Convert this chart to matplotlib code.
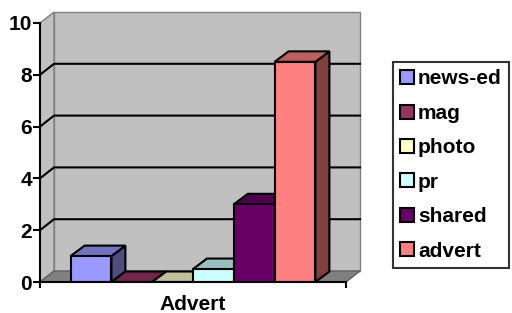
import matplotlib
matplotlib.use('Agg')
import matplotlib.pyplot as plt
import numpy as np
from matplotlib.patches import Polygon
from matplotlib.colors import to_rgb

plt.rcParams['font.family'] = ['Liberation Sans', 'DejaVu Sans']
plt.rcParams['font.weight'] = 'bold'

# data
series = ['news-ed', 'mag', 'photo', 'pr', 'shared', 'advert']
values = [1, 0, 0, 0.5, 3, 8.5]
colors = ['#9999FF', '#993366', '#FFFFCC', '#CCFFFF', '#660066', '#FF8080']
category = 'Advert'
yticks = [0, 2, 4, 6, 8, 10]

fig = plt.figure(figsize=(5.12, 3.13), dpi=100)
# px per unit: x 306 px per category, y 25.9 px per unit
ax = fig.add_axes([40/512, 31/313, 1.06*306/512, 10.5*25.9/313])
ax.set_xlim(0, 1.06)
ax.set_ylim(0, 10.5)

dx, dy = 14/306, 11/25.9      # depth of walls
bdx, bdy = 14/306, 10.5/25.9  # depth of bars
ymax = 10

def shade(c, f):
    return tuple(np.array(to_rgb(c)) * f)

wall = '#C0C0C0'
edge = '#808080'
# back wall and side wall
ax.add_patch(Polygon([(dx, dy), (1+dx, dy), (1+dx, ymax+dy), (dx, ymax+dy)],
                     fc=wall, ec=edge, lw=1, zorder=1))
ax.add_patch(Polygon([(0, 0), (dx, dy), (dx, ymax+dy), (0, ymax)],
                     fc=wall, ec=edge, lw=1, zorder=1))
# gridlines
for v in yticks[1:-1]:
    ax.plot([0, dx, 1+dx], [v, v+dy, v+dy], color='black', lw=1.5, zorder=1.5)
# floor
ax.add_patch(Polygon([(0, 0), (1, 0), (1+dx, dy), (dx, dy)],
                     fc='#808080', ec='#606060', lw=1, zorder=2))

# bars
w = 1/7.5
x = 0.1 + w/2 + w*np.arange(len(values))
bars = ax.bar(x, values, width=w, color=colors, edgecolor='black', lw=1.5)
for i, (b, v, c) in enumerate(zip(bars, values, colors)):
    x0 = b.get_x()
    z = 3 + i*0.1
    b.set_zorder(z + 0.05)
    ax.add_patch(Polygon([(x0+w, 0), (x0+w+bdx, bdy), (x0+w+bdx, v+bdy), (x0+w, v)],
                         fc=shade(c, 0.5), ec='black', lw=1.5, zorder=z))
    ax.add_patch(Polygon([(x0, v), (x0+w, v), (x0+w+bdx, v+bdy), (x0+bdx, v+bdy)],
                         fc=shade(c, 0.75), ec='black', lw=1.5, zorder=z + 0.02))

# axes
for s in ['top', 'right']:
    ax.spines[s].set_visible(False)
ax.spines['left'].set_bounds(0, ymax)
ax.spines['bottom'].set_bounds(0, 1)
for s in ['left', 'bottom']:
    ax.spines[s].set_linewidth(1.5)
    ax.spines[s].set_zorder(6)
ax.set_yticks(yticks)
ax.set_yticklabels([str(t) for t in yticks], fontsize=15, fontweight='bold')
ax.tick_params(axis='y', direction='out', length=4.8, width=1.5, pad=1)
ax.set_xticks([0, 1])
ax.set_xticklabels(['', ''])
ax.tick_params(axis='x', which='major', direction='out', length=4.5, width=1.5)
ax.set_xticks([0.5], minor=True)
ax.set_xticklabels([category], minor=True, fontsize=15, fontweight='bold')
ax.tick_params(axis='x', which='minor', length=0, pad=9.5)
ax.patch.set_visible(False)

leg = fig.legend(handles=list(bars), labels=series, loc='center left',
                 bbox_to_anchor=(393/512, 1 - 165/313), borderaxespad=0,
                 prop={'size': 15, 'weight': 'bold'}, frameon=True, fancybox=False,
                 handlelength=0.65, handleheight=0.65, handletextpad=0.2,
                 labelspacing=0.74, borderpad=0.35)
leg.get_frame().set_edgecolor('black')
leg.get_frame().set_linewidth(1.5)

fig.savefig('out.png', dpi=100)
